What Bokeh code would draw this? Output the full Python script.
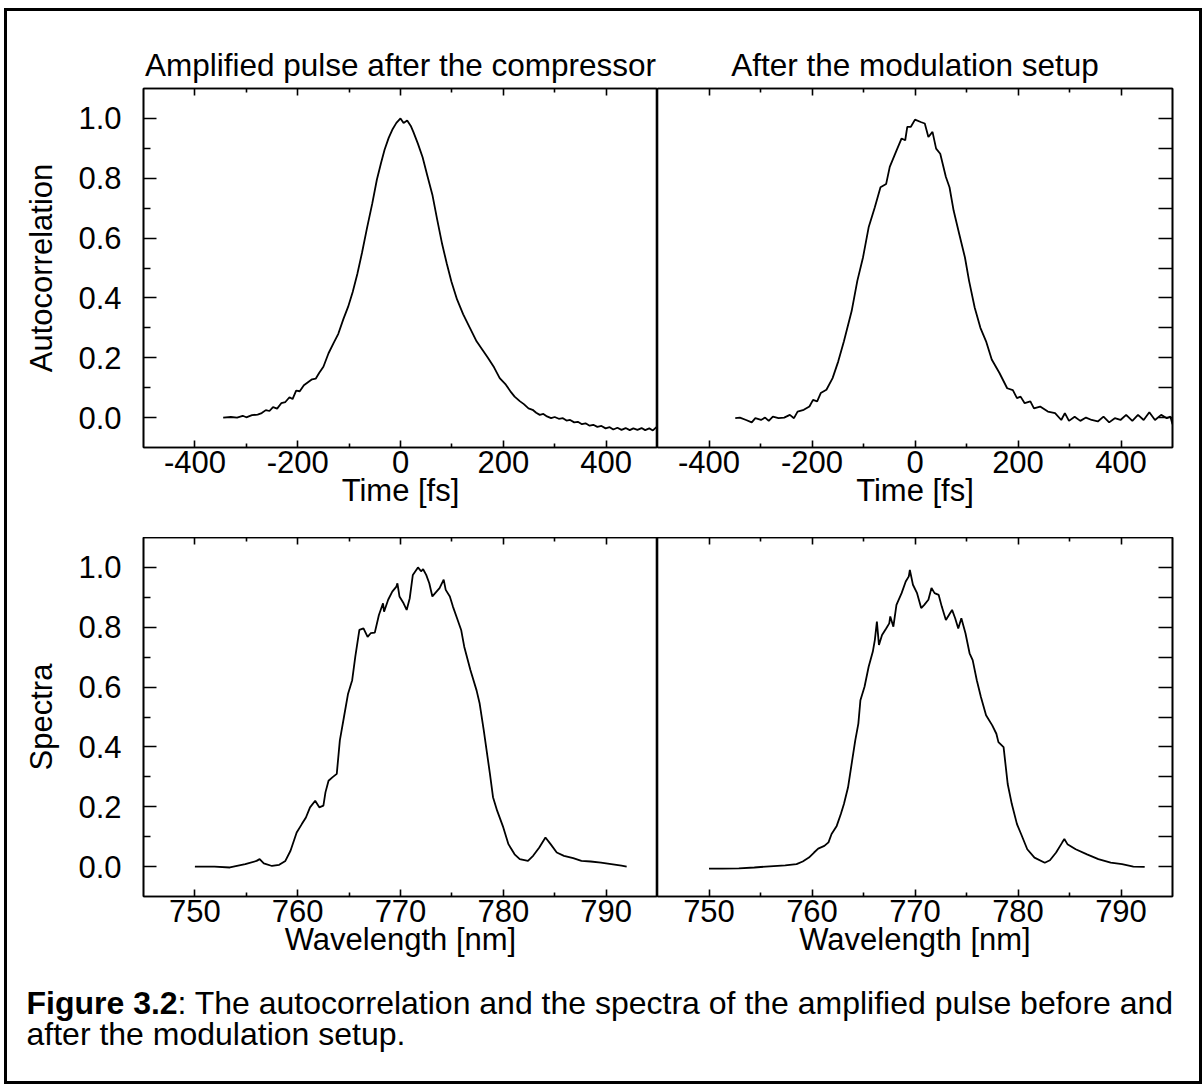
from bokeh.plotting import figure
from bokeh.models import Range1d, LinearAxis, FixedTicker, Label, Title
from bokeh.layouts import row, column
from bokeh.embed import file_html
from bokeh.resources import INLINE

FONT = "Liberation Sans"

# ---------------- data ----------------
panel_titles = ["Amplified pulse after the compressor", "After the modulation setup"]
y_label_top = "Autocorrelation"
y_label_bottom = "Spectra"
x_label_top = "Time [fs]"
x_label_bottom = "Wavelength [nm]"

time_ticks = [-400, -200, 0, 200, 400]
time_minor = [-300, -100, 100, 300]
wl_ticks = [750, 760, 770, 780, 790]
wl_minor = [755, 765, 775, 785]
y_ticks = [0.0, 0.2, 0.4, 0.6, 0.8, 1.0]
y_minor = [0.1, 0.3, 0.5, 0.7, 0.9]
y_all = [0.0, 0.1, 0.2, 0.3, 0.4, 0.5, 0.6, 0.7, 0.8, 0.9, 1.0]

# autocorrelation after the compressor (time fs, value)
ac_before = [
    (-345, 0.000), (-330, 0.002), (-318, 0.000), (-307, 0.006), (-300, 0.001),
    (-289, 0.008), (-278, 0.010), (-270, 0.015), (-262, 0.025), (-255, 0.022),
    (-248, 0.035), (-240, 0.030), (-232, 0.048), (-224, 0.052), (-216, 0.068),
    (-210, 0.062), (-203, 0.090), (-196, 0.088), (-188, 0.108), (-180, 0.118),
    (-172, 0.128), (-165, 0.130), (-158, 0.150), (-150, 0.170), (-140, 0.215),
    (-130, 0.250), (-121, 0.280), (-111, 0.330), (-102, 0.370), (-93, 0.420),
    (-84, 0.480), (-75, 0.550), (-65, 0.635), (-55, 0.715), (-46, 0.795),
    (-38, 0.850), (-31, 0.895), (-23, 0.935), (-16, 0.962), (-8, 0.985),
    (0, 1.000), (6, 0.985), (13, 0.993), (20, 0.975), (25, 0.955),
    (34, 0.915), (43, 0.870), (52, 0.810), (62, 0.745), (71, 0.665),
    (81, 0.580), (90, 0.515), (99, 0.455), (110, 0.395), (122, 0.345),
    (135, 0.300), (148, 0.255), (160, 0.225), (170, 0.200), (182, 0.168),
    (193, 0.132), (205, 0.110), (215, 0.085), (222, 0.070), (232, 0.055),
    (240, 0.045), (249, 0.031), (257, 0.026), (264, 0.016), (271, 0.009),
    (278, 0.012), (285, 0.004), (293, -0.002), (300, 0.002), (308, -0.004),
    (316, -0.002), (323, -0.010), (330, -0.008), (338, -0.016), (345, -0.014),
    (353, -0.022), (360, -0.019), (368, -0.027), (375, -0.024), (383, -0.031),
    (391, -0.028), (399, -0.036), (407, -0.032), (414, -0.040), (422, -0.034),
    (430, -0.041), (438, -0.035), (446, -0.042), (453, -0.036), (461, -0.041),
    (469, -0.035), (476, -0.042), (484, -0.036), (491, -0.043), (499, -0.030),
]

# autocorrelation after the modulation setup
ac_after = [
    (-349, -0.002), (-340, 0.000), (-328, -0.008), (-317, -0.016), (-310, -0.002),
    (-299, -0.008), (-291, 0.000), (-284, -0.011), (-276, 0.003), (-265, -0.002),
    (-254, 0.000), (-243, 0.009), (-235, -0.002), (-228, 0.020), (-216, 0.026),
    (-205, 0.037), (-198, 0.059), (-190, 0.054), (-183, 0.082), (-172, 0.093),
    (-160, 0.132), (-149, 0.188), (-138, 0.255), (-123, 0.356), (-112, 0.457),
    (-101, 0.535), (-90, 0.636), (-78, 0.703), (-67, 0.770), (-56, 0.781),
    (-49, 0.838), (-37, 0.888), (-26, 0.933), (-19, 0.927), (-15, 0.972),
    (-8, 0.972), (0, 0.996), (11, 0.988), (19, 0.983), (26, 0.938),
    (34, 0.955), (41, 0.899), (49, 0.882), (60, 0.804), (67, 0.770),
    (75, 0.692), (86, 0.613), (97, 0.535), (105, 0.457), (116, 0.367),
    (127, 0.300), (138, 0.255), (149, 0.194), (164, 0.149), (179, 0.098),
    (190, 0.092), (198, 0.065), (205, 0.070), (213, 0.048), (224, 0.054),
    (231, 0.031), (243, 0.037), (258, 0.020), (272, 0.015), (284, -0.008),
    (291, 0.015), (299, -0.011), (310, 0.003), (321, -0.011), (332, 0.000),
    (343, -0.008), (355, -0.013), (366, 0.003), (377, -0.016), (388, -0.002),
    (399, -0.008), (410, 0.009), (422, -0.011), (433, 0.009), (444, -0.008),
    (455, 0.018), (466, -0.008), (478, 0.009), (489, -0.002), (496, 0.003),
    (500, -0.022),
]

# spectrum after the compressor (wavelength nm, value)
sp_before = [
    (750.0, 0.000), (751.9, 0.000), (753.4, -0.003), (754.9, 0.008), (756.0, 0.019),
    (756.3, 0.025), (756.7, 0.011), (757.5, 0.002), (758.2, 0.006), (758.8, 0.019),
    (759.3, 0.053), (759.9, 0.114), (760.4, 0.142), (760.8, 0.164), (761.2, 0.198),
    (761.7, 0.220), (762.1, 0.198), (762.5, 0.204), (762.7, 0.248), (763.0, 0.287),
    (763.4, 0.299), (763.8, 0.310), (764.1, 0.422), (764.5, 0.500), (764.9, 0.578),
    (765.3, 0.623), (765.6, 0.701), (766.0, 0.791), (766.4, 0.796), (766.8, 0.768),
    (767.1, 0.780), (767.5, 0.782), (767.9, 0.841), (768.3, 0.880), (768.4, 0.852),
    (768.8, 0.892), (769.2, 0.919), (769.6, 0.936), (769.7, 0.947), (769.9, 0.903),
    (770.3, 0.880), (770.6, 0.858), (770.9, 0.897), (771.2, 0.975), (771.7, 1.000),
    (772.0, 0.987), (772.2, 0.994), (772.5, 0.975), (772.8, 0.947), (773.1, 0.903),
    (773.5, 0.919), (773.8, 0.931), (774.2, 0.959), (774.4, 0.925), (774.8, 0.903),
    (775.1, 0.869), (775.5, 0.830), (775.9, 0.791), (776.2, 0.735), (776.8, 0.657),
    (777.4, 0.589), (777.7, 0.545), (778.1, 0.455), (778.7, 0.310), (779.0, 0.232),
    (779.4, 0.187), (780.0, 0.131), (780.5, 0.075), (781.1, 0.041), (781.6, 0.025),
    (782.4, 0.019), (782.9, 0.036), (783.5, 0.064), (784.1, 0.097), (784.6, 0.075),
    (785.2, 0.047), (785.9, 0.036), (786.8, 0.028), (787.6, 0.019), (788.5, 0.017),
    (789.5, 0.013), (790.5, 0.008), (791.5, 0.003), (792.0, 0.000),
]

# spectrum after the modulation setup
sp_after = [
    (750.0, -0.007), (751.3, -0.007), (752.9, -0.006), (754.4, -0.003), (755.9, 0.001),
    (757.4, 0.004), (758.5, 0.008), (759.1, 0.017), (759.7, 0.030), (760.2, 0.047),
    (760.6, 0.060), (761.2, 0.069), (761.6, 0.081), (761.9, 0.109), (762.4, 0.136),
    (762.8, 0.176), (763.1, 0.209), (763.5, 0.265), (763.9, 0.355), (764.2, 0.422),
    (764.5, 0.478), (764.7, 0.556), (765.1, 0.601), (765.5, 0.668), (765.9, 0.718),
    (766.1, 0.757), (766.3, 0.819), (766.5, 0.741), (766.8, 0.774), (767.2, 0.796),
    (767.5, 0.813), (767.6, 0.836), (767.9, 0.802), (768.2, 0.875), (768.7, 0.914),
    (769.1, 0.953), (769.4, 0.970), (769.5, 0.992), (769.8, 0.942), (770.2, 0.914),
    (770.6, 0.864), (770.9, 0.875), (771.3, 0.892), (771.6, 0.931), (771.9, 0.914),
    (772.3, 0.908), (772.6, 0.869), (773.0, 0.824), (773.4, 0.847), (773.6, 0.858),
    (773.9, 0.830), (774.2, 0.796), (774.5, 0.830), (774.9, 0.780), (775.3, 0.713),
    (775.6, 0.690), (776.0, 0.623), (776.4, 0.567), (776.9, 0.506), (777.5, 0.472),
    (777.9, 0.444), (778.1, 0.416), (778.6, 0.399), (779.0, 0.276), (779.4, 0.209),
    (779.9, 0.142), (780.3, 0.109), (780.9, 0.058), (781.6, 0.030), (782.6, 0.013),
    (783.1, 0.021), (783.7, 0.047), (784.3, 0.081), (784.5, 0.092), (784.8, 0.075),
    (785.6, 0.058), (786.7, 0.041), (787.8, 0.025), (789.0, 0.013), (790.1, 0.008),
    (791.2, 0.000), (792.3, -0.001),
]

caption_bold = "Figure 3.2"
caption_rest = ": The autocorrelation and the spectra of the amplified pulse before and"
caption_line2 = "after the modulation setup."

# ---------------- helpers ----------------
LW = 1.6


def fmt_y(v):
    return "%.1f" % v


def base_axis(ax, tick_in, minor_in, minor_ticks, major_ticks):
    ax.ticker = FixedTicker(ticks=major_ticks, minor_ticks=minor_ticks)
    ax.axis_line_color = "black"
    ax.axis_line_width = LW
    ax.major_tick_in = tick_in
    ax.major_tick_out = 0
    ax.minor_tick_in = minor_in
    ax.minor_tick_out = 0
    ax.major_tick_line_color = "black"
    ax.major_tick_line_width = LW
    ax.minor_tick_line_color = "black"
    ax.minor_tick_line_width = LW
    return ax


def label_axis(ax, text, standoff, label_standoff, overrides):
    ax.major_label_overrides = overrides
    ax.major_label_text_font = FONT
    ax.major_label_text_font_size = "31px"
    ax.major_label_text_color = "black"
    ax.major_label_standoff = standoff
    ax.axis_label = text
    ax.axis_label_text_font = FONT
    ax.axis_label_text_font_size = "31px"
    ax.axis_label_text_font_style = "normal"
    ax.axis_label_text_color = "black"
    ax.axis_label_standoff = label_standoff


def blank_labels(ax):
    ax.major_label_text_font_size = "0px"
    ax.major_label_text_color = None
    ax.major_label_standoff = 0


def panel(data, xr, xt, xm, ylabel, xlabel, left, title, top_b, bot_b, fw):
    p = figure(
        frame_width=fw, frame_height=359,
        x_range=Range1d(*xr), y_range=Range1d(-0.1, 1.1),
        x_axis_type=None, y_axis_type=None,
        min_border_left=136 if left else 0,
        min_border_right=0 if left else 27,
        min_border_top=top_b, min_border_bottom=bot_b,
        toolbar_location=None, output_backend="svg", title=None,
        outline_line_color="black", outline_line_width=LW,
        background_fill_color="white", border_fill_color="white",
    )
    # top axis, ticks only (closest to the frame)
    xa = base_axis(LinearAxis(), 7, 4, xm, xt)
    blank_labels(xa)
    p.add_layout(xa, "above")
    if title is not None:
        p.add_layout(Title(
            text=title, align="center", text_font=FONT,
            text_font_size="31.5px", text_font_style="normal",
            text_color="black", standoff=12,
        ), "above")
    # bottom axis with labels
    xb = base_axis(LinearAxis(), 7, 4, xm, xt)
    label_axis(xb, xlabel, 3, -3, {t: str(t) for t in xt})
    p.add_layout(xb, "below")
    if left:
        yl = base_axis(LinearAxis(), 13, 7, y_minor, y_ticks)
        label_axis(yl, ylabel, 22, 16, {v: fmt_y(v) for v in y_ticks})
        p.add_layout(yl, "left")
    else:
        yr = base_axis(LinearAxis(), 14, 14, [], y_all)
        blank_labels(yr)
        p.add_layout(yr, "right")
    xs = [d[0] for d in data]
    ys = [d[1] for d in data]
    p.line(xs, ys, line_color="black", line_width=1.8)
    return p


tl = panel(ac_before, (-500, 500), time_ticks, time_minor, y_label_top, x_label_top,
           True, panel_titles[0], 77, 90, 514)
tr = panel(ac_after, (-500, 500), time_ticks, time_minor, None, x_label_top,
           False, panel_titles[1], 77, 90, 515)
bl = panel(sp_before, (745, 795), wl_ticks, wl_minor, y_label_bottom, x_label_bottom,
           True, None, 0, 70, 514)
br = panel(sp_after, (745, 795), wl_ticks, wl_minor, None, x_label_bottom,
           False, None, 0, 70, 515)

CAP_W, CAP_H = 1192, 115
cap = figure(
    frame_width=CAP_W, frame_height=CAP_H,
    x_range=Range1d(0, CAP_W), y_range=Range1d(CAP_H, 0),
    x_axis_type=None, y_axis_type=None, min_border=0,
    toolbar_location=None, output_backend="svg", title=None,
    outline_line_color=None,
)
cap.add_layout(Label(x=19, y=36, text=caption_bold, text_font=FONT,
                     text_font_style="bold", text_font_size="32px",
                     text_color="black", text_baseline="alphabetic"))
cap.add_layout(Label(x=19 + 151, y=36, text=caption_rest, text_font=FONT,
                     text_font_size="32px", text_color="black",
                     text_baseline="alphabetic"))
cap.add_layout(Label(x=19, y=67, text=caption_line2, text_font=FONT,
                     text_font_size="32px", text_color="black",
                     text_baseline="alphabetic"))

layout = column(
    row(tl, tr), row(bl, br), cap,
    styles={"border": "3px solid black", "margin-left": "4px", "margin-top": "8px"},
)

open("out.html", "w").write(file_html(layout, INLINE))
